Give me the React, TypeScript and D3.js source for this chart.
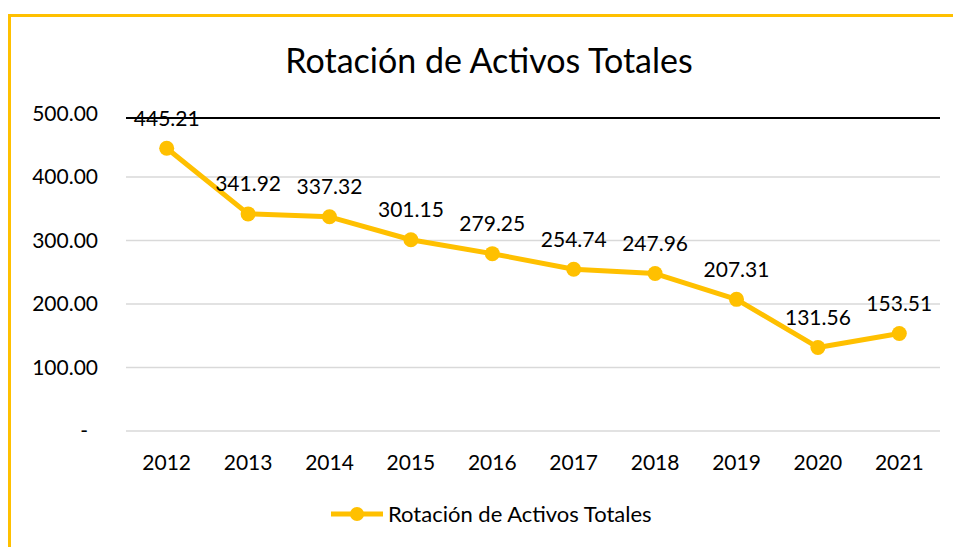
import React from "react";
import * as d3 from "d3";

const title = "Rotación de Activos Totales";
const years = ["2012","2013","2014","2015","2016","2017","2018","2019","2020","2021"];
const values = [445.21, 341.92, 337.32, 301.15, 279.25, 254.74, 247.96, 207.31, 131.56, 153.51];
const yTicks = [0, 100, 200, 300, 400, 500];

const W = 953, H = 547;
const FONT = "Lato, 'Open Sans', sans-serif";
const GOLD = "#FFC000";

export default function App() {
  const x = d3.scaleBand<string>().domain(years).range([126, 940]);
  const y = d3.scaleLinear().domain([0, 500]).range([431, 113.5]);
  const line = d3.line<number>()
    .x((_, i) => (x(years[i]) as number) + x.bandwidth() / 2)
    .y((d) => y(d));
  const fmt = d3.format(".2f");
  return (
    <svg width={W} height={H} style={{ position: "absolute", left: 0, top: 0, background: "#fff" }} fontFamily={FONT}>
      <rect x={9.5} y={15.5} width={960} height={560} fill="none" stroke={GOLD} strokeWidth={3} />
      <text x={489} y={73} textAnchor="middle" fontSize={34} fill="#000">{title}</text>
      {yTicks.filter(t => t < 500).map((t) => (
        <line key={t} x1={126} x2={940} y1={y(t)} y2={y(t)} stroke="#d9d9d9" strokeWidth={1.5} />
      ))}
      <line x1={126} x2={940} y1={118} y2={118} stroke="#000" strokeWidth={2} />
      {yTicks.map((t) => (
        <text key={t} x={t === 0 ? 88 : 98} y={y(t)} dy="0.35em" textAnchor="end" fontSize={21} fill="#000">
          {t === 0 ? "-" : fmt(t)}
        </text>
      ))}
      {years.map((yr) => (
        <text key={yr} x={(x(yr) as number) + x.bandwidth() / 2} y={463} dy="0.35em" textAnchor="middle" fontSize={21} fill="#000">{yr}</text>
      ))}
      <path d={line(values) || ""} fill="none" stroke={GOLD} strokeWidth={5} strokeLinejoin="round" />
      {values.map((v, i) => (
        <circle key={i} cx={(x(years[i]) as number) + x.bandwidth() / 2} cy={y(v)} r={7.5} fill={GOLD} />
      ))}
      {values.map((v, i) => (
        <text key={i} x={(x(years[i]) as number) + x.bandwidth() / 2} y={y(v) - 30} dy="0.35em" textAnchor="middle" fontSize={21} fill="#000">{fmt(v)}</text>
      ))}
      <line x1={331} x2={383} y1={514} y2={514} stroke={GOLD} strokeWidth={5} />
      <circle cx={357} cy={514} r={7} fill={GOLD} />
      <text x={388} y={514} dy="0.35em" fontSize={22} fill="#000">{title}</text>
    </svg>
  );
}
